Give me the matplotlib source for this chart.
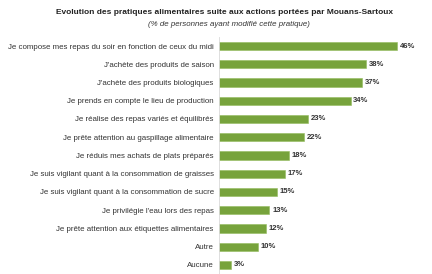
import matplotlib
matplotlib.use("Agg")
import matplotlib.pyplot as plt

plt.rcParams['font.family'] = ['Liberation Sans', 'DejaVu Sans']

# Practices and share of respondents (%)
categories = [
    "Je compose mes repas du soir en fonction de ceux du midi",
    "J'achète des produits de saison",
    "J'achète des produits biologiques",
    "Je prends en compte le lieu de production",
    "Je réalise des repas variés et équilibrés",
    "Je prête attention au gaspillage alimentaire",
    "Je réduis mes achats de plats préparés",
    "Je suis vigilant quant à la consommation de graisses",
    "Je suis vigilant quant à la consommation de sucre",
    "Je privilégie l'eau lors des repas",
    "Je prête attention aux étiquettes alimentaires",
    "Autre",
    "Aucune",
]
values = [46, 38, 37, 34, 23, 22, 18, 17, 15, 13, 12, 10, 3]

title = "Evolution des pratiques alimentaires suite aux actions portées par Mouans-Sartoux"
subtitle = "(% de personnes ayant modifié cette pratique)"

green = '#77A33C'

fig = plt.figure(figsize=(4.32, 2.74), dpi=100)
ax = fig.add_axes([0.5076, 0.0, 0.4468, 0.8653])

pos = list(range(len(values)))
ax.barh(pos, values, height=0.45, color=green, edgecolor='#93BC5E', linewidth=0.4)
for y, v in zip(pos, values):
    ax.text(v + 0.7, y, '{}%'.format(v), va='center', ha='left',
            fontsize=5.5, fontweight='bold', color='#333333')

ax.set_xlim(0, 50)
ax.set_ylim(12.5, -0.5)
ax.set_yticks(pos)
ax.set_yticklabels(categories, fontsize=5.65, color='#333333')
ax.set_xticks([])
ax.tick_params(axis='y', length=0, pad=4)
for s in ['top', 'right', 'bottom']:
    ax.spines[s].set_visible(False)
ax.spines['left'].set_color('#d9d9d9')
ax.spines['left'].set_linewidth(0.6)

fig.text(0.519, 0.953, title, ha='center', va='center', fontsize=6.0,
         fontweight='bold', color='#222222')
fig.text(0.531, 0.91, subtitle, ha='center', va='center', fontsize=5.65,
         style='italic', color='#333333')

fig.savefig('out.png', dpi=100)
